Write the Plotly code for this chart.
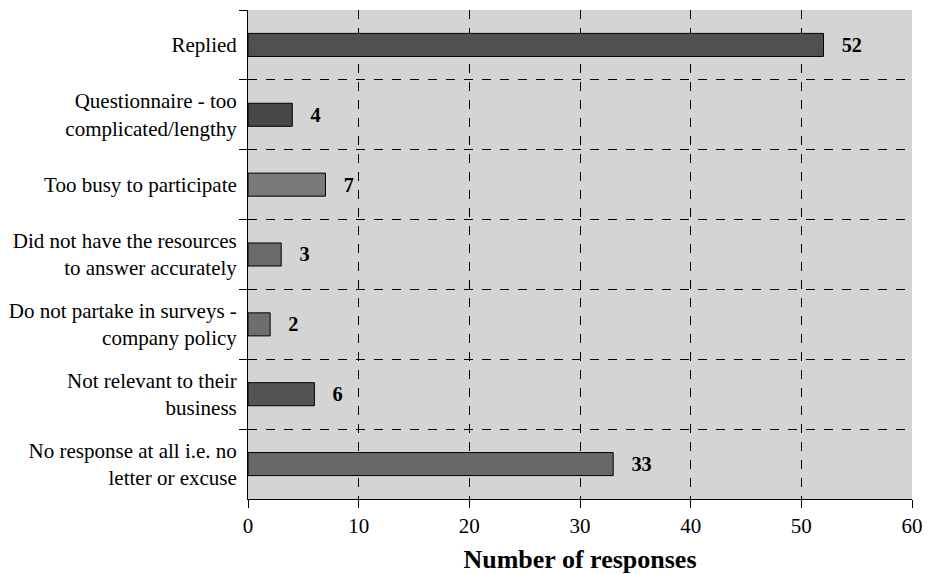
import plotly.graph_objects as go

categories = [
    "Replied",
    "Questionnaire - too<br>complicated/lengthy",
    "Too busy to participate",
    "Did not have the resources<br>to answer accurately",
    "Do not partake in surveys -<br>company policy",
    "Not relevant to their<br>business",
    "No response at all i.e. no<br>letter or excuse",
]
responses = [52, 4, 7, 3, 2, 6, 33]
bar_colors = ["#505050", "#484848", "#7a7a7a", "#6a6a6a", "#6e6e6e", "#545454", "#686868"]
x_ticks = [0, 10, 20, 30, 40, 50, 60]

FONT = "Liberation Serif, Times New Roman, serif"

fig = go.Figure(
    go.Bar(
        y=categories,
        x=responses,
        orientation="h",
        width=0.33,
        marker=dict(color=bar_colors, line=dict(color="black", width=1)),
        text=["\u00a0\u00a0\u00a0" + str(v) for v in responses],
        textposition="outside",
        cliponaxis=False,
        textfont=dict(family=FONT, size=22, color="black", weight="bold"),
        hoverinfo="skip",
    )
)

fig.update_layout(
    width=928,
    height=574,
    margin=dict(l=248, r=16, t=10, b=75),
    paper_bgcolor="white",
    plot_bgcolor="#d4d4d4",
    showlegend=False,
    font=dict(family=FONT, size=21, color="black"),
)

fig.update_xaxes(
    range=[0, 60],
    tickvals=x_ticks,
    ticks="outside",
    ticklen=8,
    tickcolor="black",
    showline=True,
    linecolor="black",
    linewidth=1,
    showgrid=True,
    gridcolor="black",
    gridwidth=1,
    griddash="dash",
    zeroline=False,
    automargin=False,
    ticklabeloverflow="allow",
    tickfont=dict(family=FONT, size=21),
    title=dict(text="Number of responses", font=dict(family=FONT, size=26, weight="bold"), standoff=18),
)

fig.update_yaxes(
    autorange="reversed",
    tickson="boundaries",
    ticks="outside",
    ticklen=8,
    tickcolor="black",
    showline=True,
    linecolor="black",
    linewidth=1,
    showgrid=True,
    gridcolor="black",
    gridwidth=1,
    griddash="dash",
    ticklabelstandoff=6,
    tickfont=dict(family=FONT, size=21),
)

fig.write_html(
    "out.html",
    config={"displayModeBar": False},
    post_script=(
        "document.body.style.margin='0';"
        "document.documentElement.style.overflow='hidden';"
        "document.body.style.overflow='hidden';"
    ),
)
